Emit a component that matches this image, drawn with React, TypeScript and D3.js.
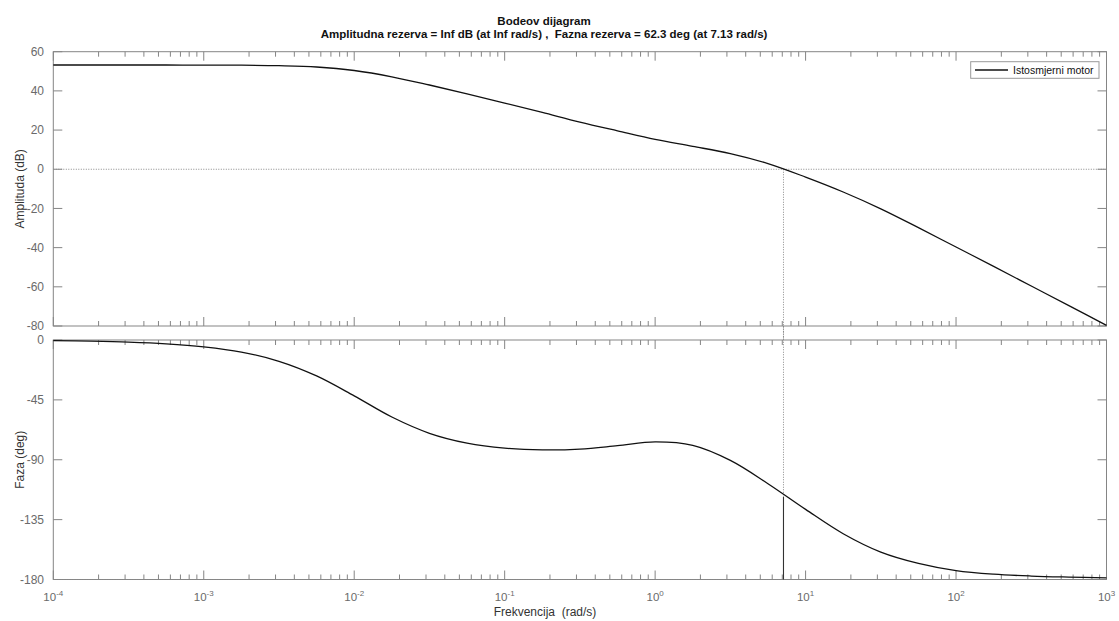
import React from "react";
import * as d3 from "d3";

// ---- data ----
const frequencies = [
  1e-4, 1.778e-4, 3.162e-4, 5.623e-4, 1e-3, 1.778e-3, 3.162e-3, 5.623e-3,
  1e-2, 1.778e-2, 3.162e-2, 5.623e-2, 0.1, 0.1778, 0.3162, 0.5623, 1, 1.778,
  3.162, 5.623, 10, 17.78, 31.62, 56.23, 100, 177.8, 316.2, 562.3, 1000,
];
const magnitudeDb = [
  53.2, 53.2, 53.2, 53.2, 53.15, 53.1, 52.85, 52.2, 50.4, 47.2, 43.0, 38.5,
  33.8, 29.0, 24.1, 19.6, 15.2, 11.7, 8.0, 2.9, -4.0, -11.6, -20.2, -29.8,
  -39.7, -49.6, -59.6, -69.6, -79.7,
];
const phaseDeg = [
  -0.5, -0.9, -1.6, -2.9, -5.2, -9.1, -16.0, -27.0, -42.0, -57.9, -70.1, -77.5,
  -81.3, -82.6, -82.0, -79.4, -76.6, -79.2, -90.5, -108.0, -127.3, -145.6,
  -159.4, -167.9, -173.3, -176.0, -177.4, -178.2, -178.8,
];
const magTicks = [60, 40, 20, 0, -20, -40, -60, -80];
const phaseTicks = [0, -45, -90, -135, -180];
const decadeExponents = [-4, -3, -2, -1, 0, 1, 2, 3];
const crossoverFreq = 7.13;
const phaseMargin = 62.3;
const titleLine1 = "Bodeov dijagram";
const titleLine2 =
  "Amplitudna rezerva = Inf dB (at Inf rad/s) ,  Fazna rezerva = 62.3 deg (at 7.13 rad/s)";
const seriesName = "Istosmjerni motor";

// ---- layout ----
const W = 1119;
const H = 621;
const left = 53.3;
const right = 1106.5;
const magTop = 51.7;
const magBottom = 326;
const phTop = 340;
const phBottom = 579.5;
const FONT = "'Liberation Sans', Arial, Helvetica, sans-serif";
const AX = "#858585";
const TXT = "#6a6a6a";
const PRE = { whiteSpace: "pre" as const };

export default function App() {
  const x = d3.scaleLog().domain([1e-4, 1e3]).range([left, right]);
  const yMag = d3.scaleLinear().domain([-80, 60]).range([magBottom, magTop]);
  const yPh = d3.scaleLinear().domain([-180, 0]).range([phBottom, phTop]);

  const magLine = d3
    .line<number>()
    .x((_, i) => x(frequencies[i]))
    .y((d) => yMag(d))
    .curve(d3.curveCatmullRom.alpha(0.5));
  const phLine = d3
    .line<number>()
    .x((_, i) => x(frequencies[i]))
    .y((d) => yPh(d))
    .curve(d3.curveCatmullRom.alpha(0.5));

  const majors = decadeExponents.map((e) => Math.pow(10, e));
  const minors: number[] = [];
  decadeExponents.slice(0, -1).forEach((e) => {
    for (let k = 2; k <= 9; k++) minors.push(k * Math.pow(10, e));
  });

  const xTicks = (yEdge: number, dir: number, key: string) => (
    <g key={key}>
      {majors.map((f, i) => (
        <line key={"M" + i} x1={x(f)} x2={x(f)} y1={yEdge} y2={yEdge + dir * 9} stroke={AX} strokeWidth={1} />
      ))}
      {minors.map((f, i) => (
        <line key={"m" + i} x1={x(f)} x2={x(f)} y1={yEdge} y2={yEdge + dir * 5} stroke={AX} strokeWidth={1} />
      ))}
    </g>
  );

  const pmPhase = phaseMargin - 180;
  const xc = x(crossoverFreq);

  return (
    <svg
      width={W}
      height={H}
      style={{ position: "absolute", left: 0, top: 0, background: "#fff" }}
      fontFamily={FONT}
    >
      <rect x={0} y={0} width={W} height={H} fill="#fff" />
      {/* titles */}
      <text x={544} y={25} textAnchor="middle" fontSize={11.5} fontWeight="bold" fill="#111" style={PRE}>
        {titleLine1}
      </text>
      <text x={544} y={37.5} textAnchor="middle" fontSize={11.5} fontWeight="bold" fill="#111" style={PRE}>
        {titleLine2}
      </text>

      {/* magnitude panel */}
      <rect x={left} y={magTop} width={right - left} height={magBottom - magTop} fill="#fff" stroke={AX} strokeWidth={1} />
      {xTicks(magTop, 1, "mt")}
      {xTicks(magBottom, -1, "mb")}
      {magTicks.map((v) => (
        <g key={"mg" + v}>
          <line x1={left} x2={left + 9} y1={yMag(v)} y2={yMag(v)} stroke={AX} />
          <line x1={right} x2={right - 9} y1={yMag(v)} y2={yMag(v)} stroke={AX} />
          <text x={44} y={yMag(v)} dy="0.35em" textAnchor="end" fontSize={12} fill={TXT}>
            {v}
          </text>
        </g>
      ))}
      <line x1={left} x2={right} y1={yMag(0)} y2={yMag(0)} stroke="#888" strokeWidth={1} strokeDasharray="1,1.5" />
      <line x1={xc} x2={xc} y1={yMag(0)} y2={yPh(pmPhase)} stroke="#888" strokeWidth={1} strokeDasharray="1,1.5" />
      <path d={magLine(magnitudeDb) || ""} fill="none" stroke="#111" strokeWidth={1.3} />

      {/* phase panel */}
      <rect x={left} y={phTop} width={right - left} height={phBottom - phTop} fill="none" stroke={AX} strokeWidth={1} />
      {xTicks(phTop, 1, "pt")}
      {xTicks(phBottom, -1, "pb")}
      {phaseTicks.map((v) => (
        <g key={"pg" + v}>
          <line x1={left} x2={left + 9} y1={yPh(v)} y2={yPh(v)} stroke={AX} />
          <line x1={right} x2={right - 9} y1={yPh(v)} y2={yPh(v)} stroke={AX} />
          <text x={44} y={yPh(v)} dy="0.35em" textAnchor="end" fontSize={12} fill={TXT}>
            {v}
          </text>
        </g>
      ))}
      <line x1={left} x2={right} y1={yPh(-180)} y2={yPh(-180)} stroke="#888" strokeWidth={1} strokeDasharray="1,1.5" />
      <line x1={xc} x2={xc} y1={yPh(pmPhase)} y2={yPh(-180)} stroke="#333" strokeWidth={1.1} />
      <path d={phLine(phaseDeg) || ""} fill="none" stroke="#111" strokeWidth={1.3} />
      {/* dotted crossover marker through the gap */}
      <line x1={xc} x2={xc} y1={magBottom} y2={phTop} stroke="#888" strokeWidth={1} strokeDasharray="1,1.5" />

      {/* x tick labels */}
      {decadeExponents.map((e) => (
        <text key={"xl" + e} x={x(Math.pow(10, e))} y={601} textAnchor="middle" fontSize={11.5} fill={TXT}>
          10
          <tspan fontSize={8} dy={-5}>
            {e}
          </tspan>
        </text>
      ))}
      <text x={545} y={616} textAnchor="middle" fontSize={12} fill="#333" style={PRE}>
        {"Frekvencija  (rad/s)"}
      </text>
      <text transform={`translate(24,${(magTop + magBottom) / 2}) rotate(-90)`} textAnchor="middle" fontSize={12} fill="#333">
        Amplituda (dB)
      </text>
      <text transform={`translate(24,${(phTop + phBottom) / 2}) rotate(-90)`} textAnchor="middle" fontSize={12} fill="#333">
        Faza (deg)
      </text>

      {/* legend */}
      <rect x={970.7} y={61.7} width={128.3} height={16.6} fill="#fff" stroke="#999" strokeWidth={1} />
      <line x1={975} x2={1008} y1={70} y2={70} stroke="#111" strokeWidth={1.3} />
      <text x={1013} y={70} dy="0.35em" fontSize={10.5} fill="#111">
        {seriesName}
      </text>
    </svg>
  );
}
